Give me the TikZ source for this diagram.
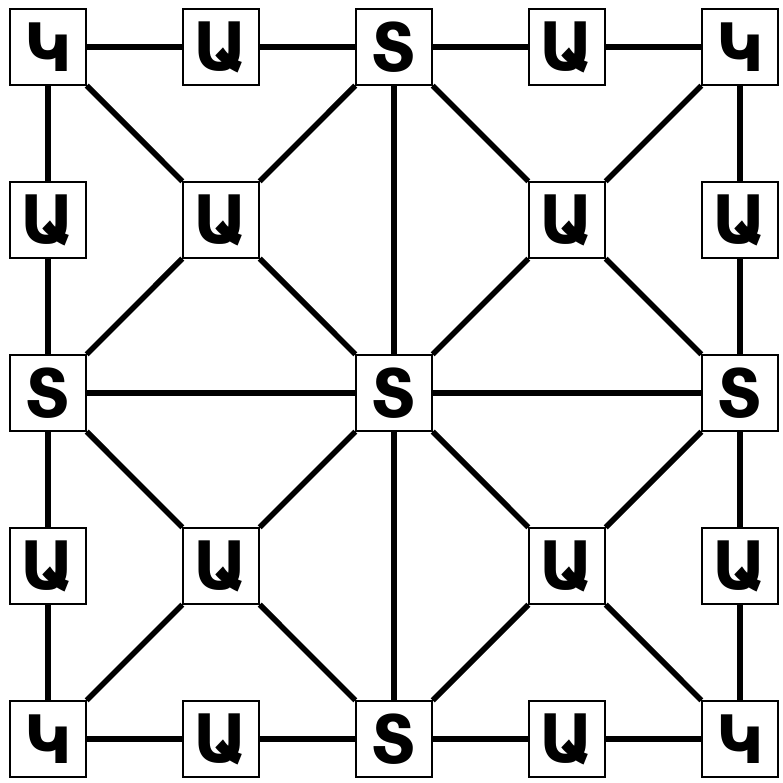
\documentclass[tikz,border=0pt]{standalone}
\usepackage{fontspec}
\newfontfamily\armfont{DejaVu Sans}
\usepackage{tikz}

\begin{document}
\begin{tikzpicture}[x=1.73cm, y=1.73cm,
    cell/.style={rectangle, draw, fill=white, minimum size=0.76cm, inner sep=0pt,
      font=\armfont\bfseries\fontsize{19}{21}\selectfont},
    link/.style={line width=1.6pt}]
        \useasboundingbox (-0.48cm,0.47cm) rectangle (7.35cm,-7.36cm);

        % corner nodes
        \node[cell] (k1) at (0,0) {Կ};
        \node[cell] (k2) at (4,0) {Կ};
        \node[cell] (k3) at (0,-4) {Կ};
        \node[cell] (k4) at (4,-4) {Կ};

        % middle nodes of sides and centre
        \node[cell] (s1) at (2,0) {Տ};
        \node[cell] (s2) at (0,-2) {Տ};
        \node[cell] (s3) at (2,-2) {Տ};
        \node[cell] (s4) at (4,-2) {Տ};
        \node[cell] (s5) at (2,-4) {Տ};

        % nodes on the outer square
        \node[cell] (a1) at (1,0) {Ա};
        \node[cell] (a2) at (3,0) {Ա};
        \node[cell] (a3) at (0,-1) {Ա};
        \node[cell] (a4) at (4,-1) {Ա};
        \node[cell] (a5) at (0,-3) {Ա};
        \node[cell] (a6) at (4,-3) {Ա};
        \node[cell] (a7) at (1,-4) {Ա};
        \node[cell] (a8) at (3,-4) {Ա};

        % inner nodes
        \node[cell] (b1) at (1,-1) {Ա};
        \node[cell] (b2) at (3,-1) {Ա};
        \node[cell] (b3) at (1,-3) {Ա};
        \node[cell] (b4) at (3,-3) {Ա};

        % outer square
        \draw[link] (k1) -- (a1) -- (s1) -- (a2) -- (k2) -- (a4) -- (s4) -- (a6) -- (k4);
        \draw[link] (k4) -- (a8) -- (s5) -- (a7) -- (k3) -- (a5) -- (s2) -- (a3) -- (k1);

        % cross through the centre
        \draw[link] (s1) -- (s3) -- (s5);
        \draw[link] (s2) -- (s3) -- (s4);

        % diagonals
        \draw[link] (k1) -- (b1) -- (s3) -- (b4) -- (k4);
        \draw[link] (k2) -- (b2) -- (s3) -- (b3) -- (k3);

        % inner diamond
        \draw[link] (s1) -- (b1) -- (s2) -- (b3) -- (s5) -- (b4) -- (s4) -- (b2) -- (s1);
    \end{tikzpicture}
\end{document}
